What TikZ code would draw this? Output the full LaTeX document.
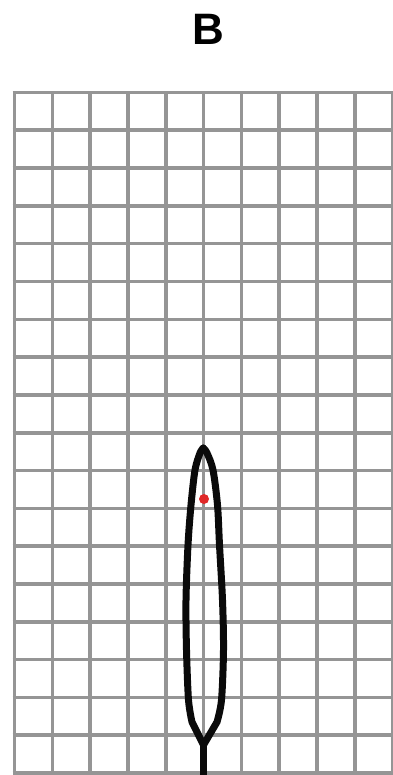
\documentclass[tikz,border=0pt]{standalone}
\usepackage{fontspec}
\setmainfont{Liberation Sans}
\usepackage{tikz}
\definecolor{my_gray}{HTML}{959595}
\definecolor{my_black}{HTML}{0A0A0A}
\definecolor{my_red}{HTML}{E02828}

\begin{document}
\begin{tikzpicture}[x=1pt, y=-1pt,
    grid_line/.style={my_gray, line width=3.6pt},
    outline/.style={my_black, line width=7pt, line join=round, line cap=round},
    title/.style={font=\bfseries\fontsize{44}{44}\selectfont, inner sep=0pt}
]
\useasboundingbox (0,0) rectangle (392,775);

% -------- Title ---------------------------------------------
\node[title] (panel) at (208,29) {B};

% -------- Grid (11 columns, 18 rows, spacing 37.8) ----------
\foreach \i in {0,...,10} {
    \draw[grid_line] ({14.5 + \i * 37.8}, 92.5) -- ({14.5 + \i * 37.8}, 773);
}
\foreach \j in {0,...,18} {
    \draw[grid_line] (12.7, {92.5 + \j * 37.8}) -- (394, {92.5 + \j * 37.8});
}

% -------- Outline of the elongated shape --------------------
\coordinate (tip) at (203.3,448);
\coordinate (fork) at (203.5,745);
\coordinate (foot) at (203.5,778);
% Left side, from the fork up to the tip
\draw[outline] (fork) -- (192,722)
    plot[smooth, tension=0.5] coordinates {(192,722) (188.5,700) (186.5,650)
    (186,600) (188,545) (191,505) (195,470) (200,453) (203.3,448)};
% Right side, from the tip down to the fork
\draw[outline] plot[smooth, tension=0.5] coordinates {(203.3,448) (207,453)
    (213,470) (217.5,505) (219.5,545) (222.5,600) (223.5,650) (221.5,700)
    (217,722)} -- (fork);
% Stem below the fork
\draw[outline, line cap=butt] (fork) -- (foot);

% -------- Marker dot ----------------------------------------
\fill[my_red] (204,499) circle (5);

\end{tikzpicture}
\end{document}
